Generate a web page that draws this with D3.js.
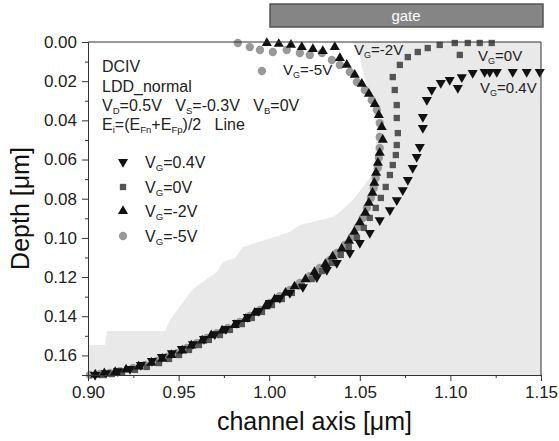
<!DOCTYPE html>
<html>
<head>
<meta charset="utf-8">
<script src="https://cdn.jsdelivr.net/npm/d3@7"></script>
<style>
  body { margin: 0; padding: 0; background: #fff; font-family: Arial, "Liberation Sans", sans-serif; }
  svg text { font-family: Arial, "Liberation Sans", sans-serif; white-space: pre; }
</style>
</head>
<body>
<div id="chart"></div>
<script>
// white (un-shaded) area, [channel axis, depth]
const whiteRegion = [
  [0.900, 0.0000], [1.046, 0.0000], [1.050, 0.0066], [1.051, 0.0128], [1.054, 0.0230],
  [1.0555, 0.0296], [1.0583, 0.0373], [1.0594, 0.0449], [1.0583, 0.0602], [1.0572, 0.0669],
  [1.0517, 0.0740], [1.0461, 0.0807], [1.0390, 0.0868], [1.0351, 0.0893], [1.0169, 0.0934],
  [1.0114, 0.0970], [0.9855, 0.1047], [0.9811, 0.1103], [0.9745, 0.1123], [0.9711, 0.1174],
  [0.9579, 0.1261], [0.9452, 0.1419], [0.9425, 0.1475], [0.9105, 0.1475], [0.9094, 0.1547],
  [0.900, 0.1547]
];

// V_G = -5V (grey circles)
const vgm5X = [0.9011, 0.9066, 0.9121, 0.9176, 0.9248, 0.9314, 0.9381, 0.9436, 0.9491, 0.9546,
  0.9601, 0.9656, 0.9711, 0.9772, 0.9838, 0.9893, 0.9949, 1.0004, 1.0059, 1.0114,
  1.0169, 1.0224, 1.0279, 1.0335, 1.0373, 1.0417, 1.0456, 1.0489, 1.0517, 1.0539,
  1.0561, 1.0577, 1.0588, 1.0599, 1.0605, 1.0610, 1.0610, 1.0610, 1.0594, 1.0566,
  1.0528, 1.0484, 1.0445, 1.0390, 1.0346, 1.0291, 1.0224, 1.0169, 1.0097, 1.0020,
  0.9949, 0.9893, 0.9827, 0.9960];
const vgm5Y = [0.1700, 0.1695, 0.1690, 0.1680, 0.1664, 0.1649, 0.1628, 0.1608, 0.1588, 0.1562,
  0.1537, 0.1511, 0.1486, 0.1460, 0.1429, 0.1399, 0.1368, 0.1332, 0.1297, 0.1266,
  0.1230, 0.1195, 0.1154, 0.1113, 0.1077, 0.1036, 0.0995, 0.0944, 0.0898, 0.0847,
  0.0796, 0.0745, 0.0694, 0.0643, 0.0592, 0.0541, 0.0485, 0.0414, 0.0347, 0.0296,
  0.0245, 0.0204, 0.0153, 0.0117, 0.0092, 0.0056, 0.0066, 0.0056, 0.0041, 0.0051,
  0.0041, 0.0026, 0.0005, 0.0148];

// V_G = -2V (black up triangles)
const vgm2X = [0.904, 0.909, 0.915, 0.921, 0.928, 0.935, 0.941, 0.946, 0.952, 0.957,
  0.963, 0.968, 0.974, 0.981, 0.987, 0.992, 0.998, 1.003, 1.009, 1.014,
  1.020, 1.025, 1.031, 1.035, 1.040, 1.044, 1.047, 1.050, 1.053, 1.055,
  1.057, 1.058, 1.059, 1.060, 1.061, 1.0627, 1.0621, 1.0605, 1.0583, 1.0550,
  1.0511, 1.0472, 1.0428, 1.0390, 1.0362, 1.0296, 1.0241, 1.0180, 1.0120, 1.0053, 0.9987];
const vgm2Y = [0.1698, 0.1692, 0.1685, 0.1672, 0.1657, 0.1638, 0.1618, 0.1598, 0.1575, 0.1550,
  0.1524, 0.1498, 0.1473, 0.1445, 0.1414, 0.1383, 0.1350, 0.1314, 0.1281, 0.1248,
  0.1212, 0.1174, 0.1134, 0.1095, 0.1056, 0.1015, 0.0969, 0.0921, 0.0872, 0.0821,
  0.0770, 0.0719, 0.0668, 0.0617, 0.0566, 0.0500, 0.0434, 0.0373, 0.0317, 0.0265,
  0.0214, 0.0168, 0.0117, 0.0082, 0.0026, 0.0046, 0.0036, 0.0026, 0.0015, 0.0010, 0.0005];

// V_G = 0V (dark grey squares)
const vg0X = [0.9077, 0.9132, 0.9188, 0.9259, 0.9325, 0.9392, 0.9447, 0.9502, 0.9557, 0.9612,
  0.9667, 0.9728, 0.9783, 0.9849, 0.9904, 0.9960, 1.0015, 1.0070, 1.0125, 1.0180,
  1.0235, 1.0291, 1.0346, 1.0395, 1.0439, 1.0484, 1.0522, 1.0555, 1.0588, 1.0616,
  1.0643, 1.0666, 1.0682, 1.0699, 1.0704, 1.0710, 1.0704, 1.0704, 1.0693, 1.0682,
  1.0721, 1.0765, 1.0820, 1.0875, 1.0941, 1.1024, 1.1096, 1.1162, 1.1228, 1.1052];
const vg0Y = [0.1700, 0.1695, 0.1685, 0.1674, 0.1659, 0.1639, 0.1618, 0.1598, 0.1572, 0.1547,
  0.1521, 0.1496, 0.1470, 0.1440, 0.1409, 0.1378, 0.1343, 0.1312, 0.1281, 0.1246,
  0.1210, 0.1169, 0.1128, 0.1087, 0.1046, 0.1000, 0.0949, 0.0898, 0.0847, 0.0796,
  0.0740, 0.0679, 0.0628, 0.0577, 0.0526, 0.0465, 0.0388, 0.0322, 0.0245, 0.0179,
  0.0117, 0.0077, 0.0051, 0.0031, 0.0015, 0.0005, 0.0005, 0.0005, 0.0005, 0.0066];

// V_G = 0.4V (black down triangles)
const vg04X = [0.9039, 0.9099, 0.9165, 0.9232, 0.9292, 0.9353, 0.9408, 0.9463, 0.9518, 0.9579,
  0.9640, 0.9700, 0.9761, 0.9822, 0.9882, 0.9943, 1.0004, 1.0059, 1.0114, 1.0186,
  1.0263, 1.0318, 1.0373, 1.0445, 1.0500, 1.0555, 1.0610, 1.0666, 1.0704, 1.0737,
  1.0765, 1.0792, 1.0814, 1.0831, 1.0848, 1.0848, 1.0870, 1.0897, 1.0947, 1.0996,
  1.1063, 1.1123, 1.1189, 1.1217, 1.1256, 1.1344, 1.1421, 1.1493, 1.1041];
const vg04Y = [0.1700, 0.1690, 0.1680, 0.1669, 0.1649, 0.1628, 0.1608, 0.1588, 0.1567, 0.1542,
  0.1516, 0.1491, 0.1465, 0.1434, 0.1404, 0.1373, 0.1332, 0.1307, 0.1281, 0.1251,
  0.1200, 0.1164, 0.1128, 0.1077, 0.1026, 0.0975, 0.0909, 0.0858, 0.0807, 0.0756,
  0.0704, 0.0643, 0.0587, 0.0536, 0.0439, 0.0383, 0.0296, 0.0245, 0.0209, 0.0194,
  0.0179, 0.0158, 0.0153, 0.0153, 0.0153, 0.0153, 0.0153, 0.0153, 0.0235];

const xTicks = [0.90, 0.95, 1.00, 1.05, 1.10, 1.15];
const yTicks = [0.00, 0.02, 0.04, 0.06, 0.08, 0.10, 0.12, 0.14, 0.16];

const W = 559, H = 441;
const margin = { left: 88, right: 18, top: 42, bottom: 66 };

const svg = d3.select("#chart").append("svg")
  .attr("width", W).attr("height", H);

const x = d3.scaleLinear().domain([0.90, 1.15]).range([margin.left, W - margin.right]);
const y = d3.scaleLinear().domain([0, 0.17]).range([margin.top, H - margin.bottom]);

// shaded background + white region
svg.append("rect")
  .attr("x", x(0.90)).attr("y", y(0))
  .attr("width", x(1.15) - x(0.90)).attr("height", y(0.17) - y(0))
  .attr("fill", "#e9e9e9");

svg.append("path")
  .datum(whiteRegion)
  .attr("d", d3.line().x(d => x(d[0])).y(d => y(d[1])).curve(d3.curveLinearClosed))
  .attr("fill", "#ffffff");

// gate bar
svg.append("rect")
  .attr("x", 270).attr("y", 4).attr("width", 273).attr("height", 23)
  .attr("fill", "#858585").attr("stroke", "#555").attr("stroke-width", 1.5);
svg.append("text")
  .attr("x", 406).attr("y", 21).attr("text-anchor", "middle")
  .attr("fill", "#fff").attr("font-size", 15).text("gate");

// markers
const sym = (type, size) => d3.symbol().type(type).size(size);
function drawSeries(xs, ys, path, fill, rotate) {
  svg.append("g").selectAll("path")
    .data(xs.map((v, i) => [v, ys[i]]))
    .join("path")
    .attr("d", path)
    .attr("transform", d => `translate(${x(d[0])},${y(d[1])})` + (rotate ? " rotate(180)" : ""))
    .attr("fill", fill);
}
const circ = sym(d3.symbolCircle, 55)();
const sq = sym(d3.symbolSquare, 40)();
const tri = sym(d3.symbolTriangle, 44)();
drawSeries(vgm5X, vgm5Y, circ, "#999999", false);
drawSeries(vg0X, vg0Y, sq, "#555555", false);
drawSeries(vgm2X, vgm2Y, tri, "#111111", false);
drawSeries(vg04X, vg04Y, tri, "#111111", true);

// axes
const frame = "#333";
svg.append("line").attr("x1", x(0.90)).attr("x2", x(1.15)).attr("y1", y(0)).attr("y2", y(0))
  .attr("stroke", frame);
svg.append("line").attr("x1", x(1.15)).attr("x2", x(1.15)).attr("y1", y(0)).attr("y2", y(0.17))
  .attr("stroke", frame);

const xAxis = svg.append("g").attr("transform", `translate(0,${y(0.17)})`)
  .call(d3.axisBottom(x).tickValues(xTicks).tickFormat(d3.format(".2f")).tickSize(6).tickPadding(5));
const xMinor = svg.append("g").attr("transform", `translate(0,${y(0.17)})`)
  .call(d3.axisBottom(x).tickValues([0.925, 0.975, 1.025, 1.075, 1.125]).tickFormat("").tickSize(3));
xMinor.select(".domain").remove();

const yAxis = svg.append("g").attr("transform", `translate(${x(0.90)},0)`)
  .call(d3.axisLeft(y).tickValues(yTicks).tickFormat(d3.format(".2f")).tickSize(6).tickPadding(5));
const yMinor = svg.append("g").attr("transform", `translate(${x(0.90)},0)`)
  .call(d3.axisLeft(y).tickValues([0.01, 0.03, 0.05, 0.07, 0.09, 0.11, 0.13, 0.15]).tickFormat("").tickSize(3));
yMinor.select(".domain").remove();

svg.selectAll(".domain, .tick line").attr("stroke", frame);
xAxis.selectAll("text").attr("font-size", 17).attr("fill", "#222");
yAxis.selectAll("text").attr("font-size", 17).attr("fill", "#222");

// axis titles
svg.append("text")
  .attr("x", (x(0.90) + x(1.15)) / 2).attr("y", 430).attr("text-anchor", "middle")
  .attr("font-size", 25).attr("fill", "#111")
  .text("channel axis [\u03bcm]");
svg.append("text")
  .attr("transform", `translate(29,${(y(0) + y(0.17)) / 2}) rotate(-90)`)
  .attr("text-anchor", "middle")
  .attr("font-size", 25).attr("fill", "#111")
  .text("Depth [\u03bcm]");

// text with subscripts: parts = [text, sub, text, sub, ...]
function subText(px, py, parts, size) {
  const t = svg.append("text").attr("x", px).attr("y", py)
    .attr("font-size", size).attr("fill", "#222");
  parts.forEach((p, i) => {
    const s = t.append("tspan").text(p);
    if (i % 2 === 1) s.attr("font-size", size * 0.6).attr("dy", 3);
    else if (i > 0) s.attr("dy", -3);
  });
  return t;
}

// legend header
svg.append("text").attr("x", 102).attr("y", 72).attr("font-size", 16).attr("fill", "#222").text("DCIV");
svg.append("text").attr("x", 102).attr("y", 92).attr("font-size", 16).attr("fill", "#222").text("LDD_normal");
subText(102, 111, ["V", "D", "=0.5V   V", "S", "=-0.3V   V", "B", "=0V"], 16);
subText(102, 130, ["E", "i", "=(E", "Fn", "+E", "Fp", ")/2   Line"], 16);

// legend entries
const legendLabels = ["0.4V", "0V", "-2V", "-5V"];
const legendY = [168, 193, 217, 242];
const legendSym = [[tri, "#111111", true], [sq, "#555555", false], [tri, "#111111", false], [circ, "#999999", false]];
legendLabels.forEach((lab, i) => {
  svg.append("path").attr("d", legendSym[i][0])
    .attr("transform", `translate(123,${legendY[i] - 6})` + (legendSym[i][2] ? " rotate(180)" : ""))
    .attr("fill", legendSym[i][1]);
  subText(145, legendY[i], ["V", "G", "=" + lab], 16);
});

// curve annotations
subText(354, 55, ["V", "G", "=-2V"], 15);
subText(283, 75, ["V", "G", "=-5V"], 15);
subText(478, 61, ["V", "G", "=0V"], 15);
subText(480, 93, ["V", "G", "=0.4V"], 15);
</script>
</body>
</html>
